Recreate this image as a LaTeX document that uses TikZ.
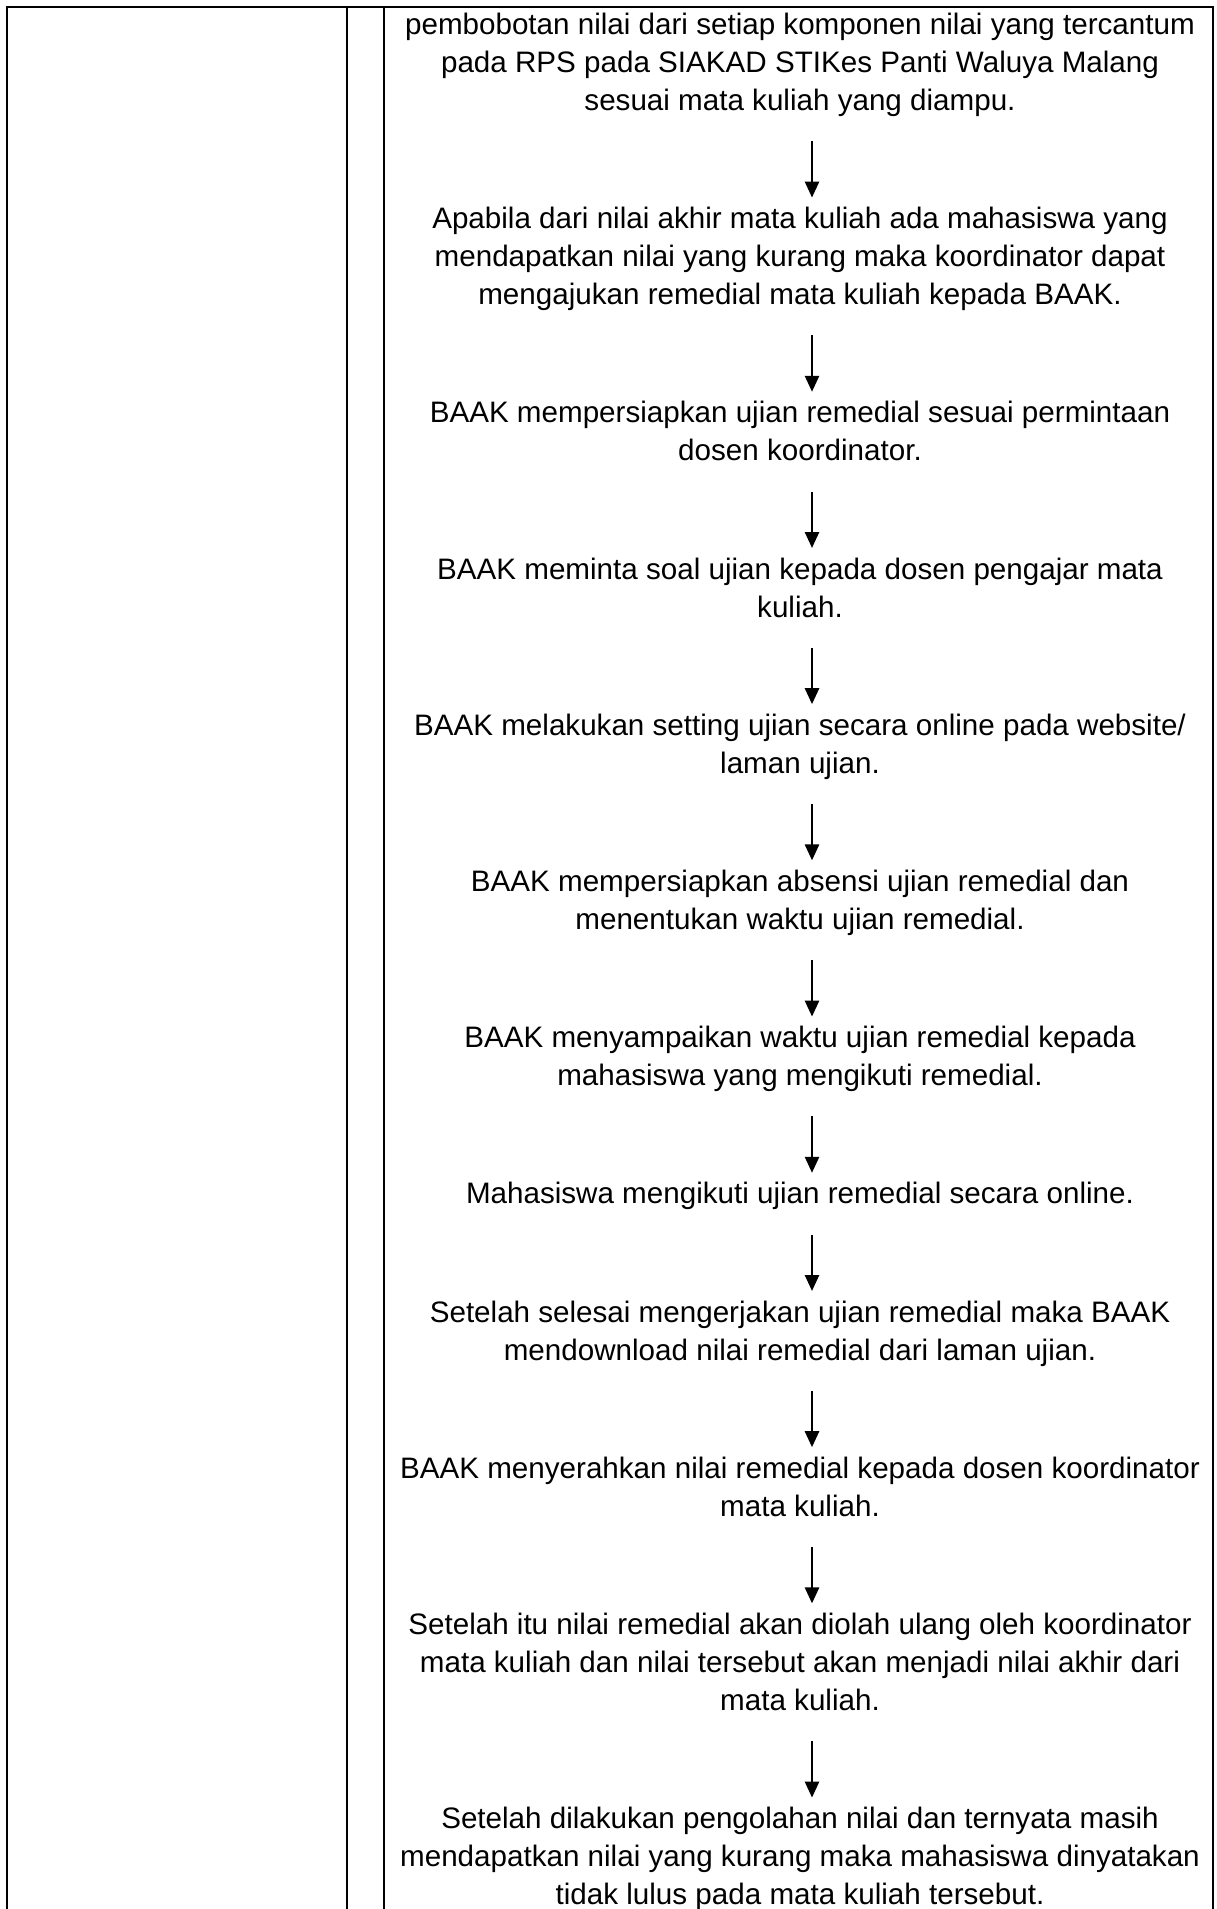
\documentclass[tikz,border=0pt]{standalone}
\usepackage{fontspec}
\setmainfont{Liberation Sans}
\usetikzlibrary{arrows.meta,positioning}
\tikzset{
  stepbox/.style={align=center,inner sep=0pt,font=\fontsize{14.8pt}{19pt}\selectfont},
  ar/.style={-{Triangle[length=8pt,width=7pt]},line width=1.3pt},
  rule/.style={line width=0.9pt},
}

\begin{document}
\begin{tikzpicture}[node distance=39.7pt]
\fill[white] (0,0) rectangle (608pt,-954.5pt);
\useasboundingbox (0,0) rectangle (608pt,-954.5pt);
% table frame
\draw[rule] (3.35pt,-954.5pt) |- (606.5pt,-3.35pt) -- (606.5pt,-954.5pt);
\draw[rule] (173.5pt,-3.35pt) -- (173.5pt,-954.5pt);
\draw[rule] (192pt,-3.35pt) -- (192pt,-954.5pt);
% steps
\node[stepbox,anchor=north] (s1) at (400pt,-3.7pt) {pembobotan nilai dari setiap komponen nilai yang tercantum\strut\\
  pada RPS pada SIAKAD STIKes Panti Waluya Malang\strut\\
  sesuai mata kuliah yang diampu.\strut};
\node[stepbox,below=of s1] (s2) {Apabila dari nilai akhir mata kuliah ada mahasiswa yang\strut\\
  mendapatkan nilai yang kurang maka koordinator dapat\strut\\
  mengajukan remedial mata kuliah kepada BAAK.\strut};
\node[stepbox,below=of s2] (s3) {BAAK mempersiapkan ujian remedial sesuai permintaan\strut\\
  dosen koordinator.\strut};
\node[stepbox,below=of s3] (s4) {BAAK meminta soal ujian kepada dosen pengajar mata\strut\\
  kuliah.\strut};
\node[stepbox,below=of s4] (s5) {BAAK melakukan setting ujian secara online pada website/\strut\\
  laman ujian.\strut};
\node[stepbox,below=of s5] (s6) {BAAK mempersiapkan absensi ujian remedial dan\strut\\
  menentukan waktu ujian remedial.\strut};
\node[stepbox,below=of s6] (s7) {BAAK menyampaikan waktu ujian remedial kepada\strut\\
  mahasiswa yang mengikuti remedial.\strut};
\node[stepbox,below=of s7] (s8) {Mahasiswa mengikuti ujian remedial secara online.\strut};
\node[stepbox,below=of s8] (s9) {Setelah selesai mengerjakan ujian remedial maka BAAK\strut\\
  mendownload nilai remedial dari laman ujian.\strut};
\node[stepbox,below=of s9] (s10) {BAAK menyerahkan nilai remedial kepada dosen koordinator\strut\\
  mata kuliah.\strut};
\node[stepbox,below=of s10] (s11) {Setelah itu nilai remedial akan diolah ulang oleh koordinator\strut\\
  mata kuliah dan nilai tersebut akan menjadi nilai akhir dari\strut\\
  mata kuliah.\strut};
\node[stepbox,below=of s11] (s12) {Setelah dilakukan pengolahan nilai dan ternyata masih\strut\\
  mendapatkan nilai yang kurang maka mahasiswa dinyatakan\strut\\
  tidak lulus pada mata kuliah tersebut.\strut};
% arrows
\foreach \a/\b in {s1/s2,s2/s3,s3/s4,s4/s5,s5/s6,s6/s7,s7/s8,s8/s9,s9/s10,s10/s11,s11/s12}
  \draw[ar] ([xshift=6pt,yshift=-9.5pt]\a.south) -- ([xshift=6pt,yshift=2pt]\b.north);
\end{tikzpicture}
\end{document}
